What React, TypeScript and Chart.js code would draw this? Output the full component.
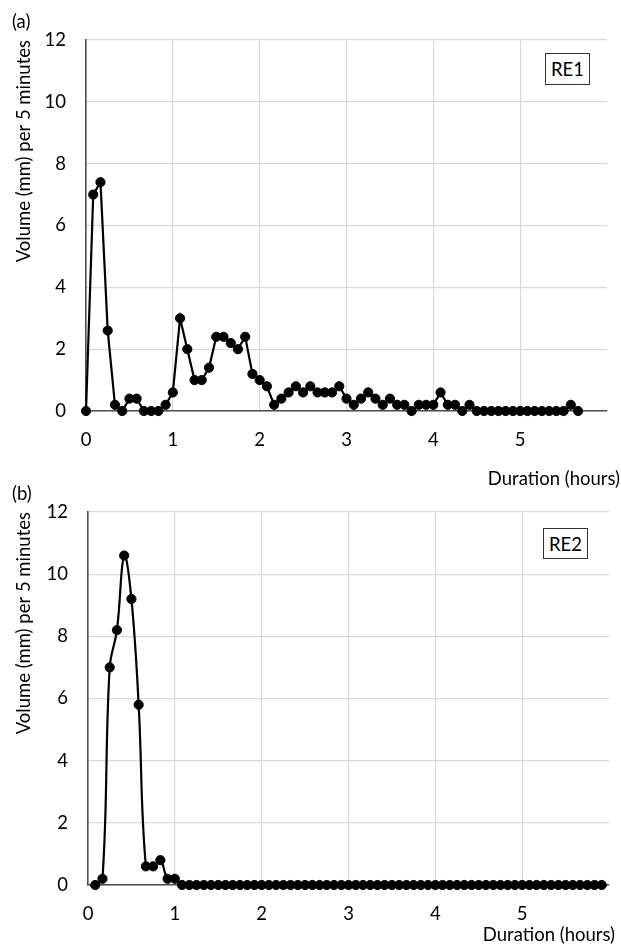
import React, { useEffect, useRef } from "react";
import { Chart, registerables } from "chart.js";

Chart.register(...registerables);

const STEP_MINUTES = 5;
const X_TICKS = [0, 1, 2, 3, 4, 5];
const X_MAX_HOURS = 6;
const Y_TICKS = [0, 2, 4, 6, 8, 10, 12];
const Y_TITLE = "Volume (mm) per 5 minutes";
const X_TITLE = "Duration (hours)";

// RE1: one value per 5-minute step, starting at step 0
const re1FirstStep = 0;
const re1Volumes = [
  0, 7.0, 7.4, 2.6, 0.2, 0, 0.4, 0.4, 0, 0, 0, 0.2,
  0.6, 3.0, 2.0, 1.0, 1.0, 1.4, 2.4, 2.4, 2.2, 2.0, 2.4, 1.2,
  1.0, 0.8, 0.2, 0.4, 0.6, 0.8, 0.6, 0.8, 0.6, 0.6, 0.6, 0.8,
  0.4, 0.2, 0.4, 0.6, 0.4, 0.2, 0.4, 0.2, 0.2, 0, 0.2, 0.2,
  0.2, 0.6, 0.2, 0.2, 0, 0.2, 0, 0, 0, 0, 0, 0,
  0, 0, 0, 0, 0, 0, 0, 0.2, 0,
];

// RE2: one value per 5-minute step, starting at step 1
const re2FirstStep = 1;
const re2Volumes = [
  0, 0.2, 7.0, 8.2, 10.6, 9.2, 5.8, 0.6, 0.6, 0.8, 0.2, 0.2,
  0, 0, 0, 0, 0, 0, 0, 0, 0, 0, 0, 0,
  0, 0, 0, 0, 0, 0, 0, 0, 0, 0, 0, 0,
  0, 0, 0, 0, 0, 0, 0, 0, 0, 0, 0, 0,
  0, 0, 0, 0, 0, 0, 0, 0, 0, 0, 0, 0,
  0, 0, 0, 0, 0, 0, 0, 0, 0, 0, 0,
];

const FONT_FAMILY = "Lato, 'Open Sans', sans-serif";
const FONT_SIZE = 18.5;
const TEXT_COLOR = "#000";
const GRID_COLOR = "#d9d9d9";
const AXIS_COLOR = "#4d4d4d";

type PanelProps = {
  volumes: number[];
  firstStep: number;
  tension: number;
  height: number;
  topPad: number;
  rightPad: number;
  yAxisWidth: number;
  xAxisHeight: number;
};

function Panel(props: PanelProps) {
  const ref = useRef<HTMLCanvasElement | null>(null);
  useEffect(() => {
    const { volumes, firstStep, tension, topPad, rightPad, yAxisWidth, xAxisHeight } = props;
    const points = volumes.map((v, i) => ({
      x: ((firstStep + i) * STEP_MINUTES) / 60,
      y: v,
    }));
    const font = { family: FONT_FAMILY, size: FONT_SIZE };
    const chart = new Chart(ref.current as HTMLCanvasElement, {
      type: "line",
      data: {
        datasets: [
          {
            data: points,
            borderColor: "#000",
            borderWidth: 2.2,
            pointRadius: 4.6,
            pointBackgroundColor: "#000",
            pointBorderColor: "#000",
            pointBorderWidth: 1,
            tension: tension,
            clip: false as any,
          },
        ],
      },
      options: {
        animation: false,
        responsive: false,
        layout: { padding: { top: topPad, right: rightPad, left: 0, bottom: 0 } },
        plugins: {
          legend: { display: false },
          tooltip: { enabled: false },
        },
        scales: {
          x: {
            type: "linear",
            min: 0,
            max: X_MAX_HOURS,
            afterBuildTicks: (s: any) => {
              s.ticks = X_TICKS.map((v) => ({ value: v }));
            },
            afterFit: (s: any) => {
              s.height = xAxisHeight;
            },
            ticks: {
              font,
              color: TEXT_COLOR,
              padding: 18,
              maxRotation: 0,
              autoSkip: false,
            },
            grid: { color: GRID_COLOR, lineWidth: 1.2, drawTicks: false },
            border: { color: AXIS_COLOR, width: 1.6 },
          },
          y: {
            type: "linear",
            min: 0,
            max: 12,
            afterBuildTicks: (s: any) => {
              s.ticks = Y_TICKS.map((v) => ({ value: v }));
            },
            afterFit: (s: any) => {
              s.width = yAxisWidth;
            },
            ticks: { font, color: TEXT_COLOR, padding: 20 },
            grid: { color: GRID_COLOR, lineWidth: 1.2, drawTicks: false },
            border: { color: AXIS_COLOR, width: 1.6 },
            title: {
              display: true,
              text: Y_TITLE,
              align: "end",
              color: TEXT_COLOR,
              font,
              padding: { top: 13, bottom: 0 },
            },
          },
        },
      },
    } as any);
    return () => chart.destroy();
  }, []);
  return (
    <canvas
      ref={ref}
      width={621}
      height={props.height}
      style={{ display: "block", width: 621, height: props.height }}
    />
  );
}

const textStyle: React.CSSProperties = {
  position: "absolute",
  fontFamily: FONT_FAMILY,
  fontSize: FONT_SIZE,
  lineHeight: "20px",
  color: TEXT_COLOR,
  whiteSpace: "nowrap",
};

const boxStyle: React.CSSProperties = {
  ...textStyle,
  boxSizing: "border-box",
  border: "1.6px solid #333",
  display: "flex",
  alignItems: "center",
  justifyContent: "center",
  background: "#fff",
};

export default function App() {
  return (
    <div
      style={{
        position: "absolute",
        left: 0,
        top: 0,
        width: 621,
        height: 950,
        background: "#fff",
        overflow: "hidden",
      }}
    >
      <div style={{ position: "absolute", left: 0, top: 0 }}>
        <Panel
          volumes={re1Volumes}
          firstStep={re1FirstStep}
          tension={0}
          height={475}
          topPad={40}
          rightPad={14}
          yAxisWidth={86}
          xAxisHeight={64}
        />
      </div>
      <div style={{ position: "absolute", left: 0, top: 475 }}>
        <Panel
          volumes={re2Volumes}
          firstStep={re2FirstStep}
          tension={0.4}
          height={475}
          topPad={37}
          rightPad={12}
          yAxisWidth={88}
          xAxisHeight={65}
        />
      </div>
      <div style={{ ...textStyle, left: 12, top: 11 }}>(a)</div>
      <div style={{ ...textStyle, left: 12, top: 483 }}>(b)</div>
      <div style={{ ...boxStyle, left: 545, top: 53, width: 45, height: 32 }}>RE1</div>
      <div style={{ ...boxStyle, left: 543, top: 528, width: 45, height: 31 }}>RE2</div>
      <div style={{ ...textStyle, right: 1, top: 467.5 }}>{X_TITLE}</div>
      <div style={{ ...textStyle, right: 6, top: 923.5 }}>{X_TITLE}</div>
    </div>
  );
}
